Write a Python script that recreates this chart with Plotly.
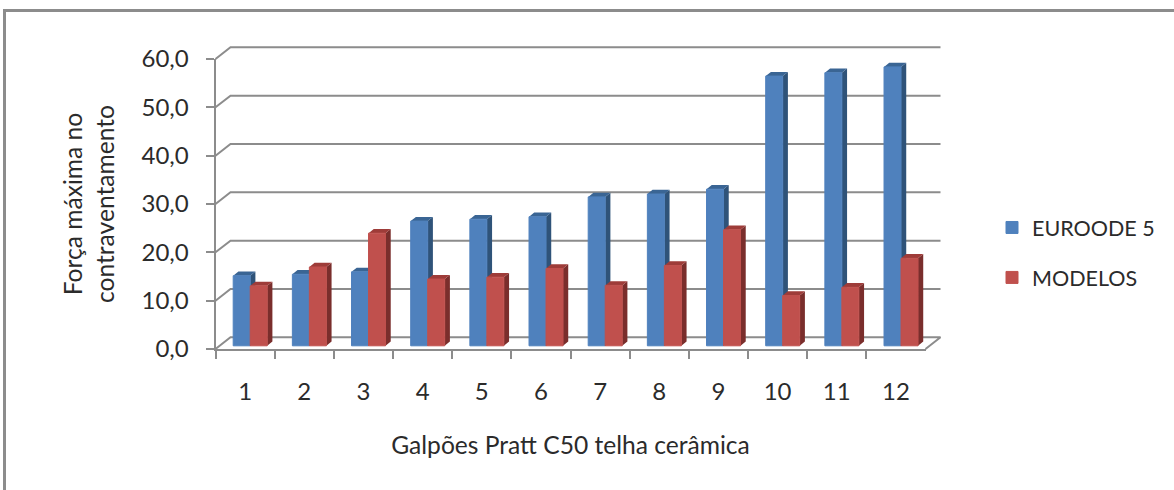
import plotly.graph_objects as go

# ---------- data ----------
categories = ["1", "2", "3", "4", "5", "6", "7", "8", "9", "10", "11", "12"]
eurocode = [14.5, 14.8, 15.3, 25.8, 26.2, 26.7, 30.8, 31.4, 32.4, 55.8, 56.5, 57.7]
modelos = [12.4, 16.3, 23.3, 13.8, 14.2, 16.0, 12.5, 16.6, 24.0, 10.4, 12.1, 18.1]
y_ticks = [0, 10, 20, 30, 40, 50, 60]
y_tick_labels = ["0,0", "10,0", "20,0", "30,0", "40,0", "50,0", "60,0"]
series_names = ["EUROODE 5", "MODELOS"]
x_title = "Galpões Pratt C50 telha cerâmica"
y_title = "Força máxima no<br>contraventamento"

# ---------- geometry (figure pixels -> axis units) ----------
W, H = 1174, 490
PX_LEFT, PX_RIGHT = 215.5, 925.5
PX_BOTTOM, PX_TOP = 349.0, 59.0
UX = (PX_RIGHT - PX_LEFT) / 12          # px per category
UY = (PX_BOTTOM - PX_TOP) / 60          # px per value unit
WALL_DX, WALL_DY = 15 / UX, 11.7 / UY   # depth of the back wall
BAR_DX, BAR_DY = 5.2 / UX, 4.2 / UY     # depth of each bar
BASE = 3.2 / UY                         # bars stand slightly behind the front edge
BLUE_OFF, BAR_W = 17.7 / UX, 17.0 / UX  # bar position within a category

BLUE, RED = "#4F81BD", "#C0504D"
BLUE_SIDE, BLUE_TOP = "#2F5379", "#3A6594"
RED_SIDE, RED_TOP = "#7A2E2C", "#9E3C39"
GRID = "#8C8C8C"
TEXT = "#2B2B2B"
FONT = "Lato"


def polygons(pts):
    xs, ys = [], []
    for p in pts:
        xs += [q[0] for q in p] + [p[0][0], None]
        ys += [q[1] for q in p] + [p[0][1], None]
    return xs, ys


def side_faces(values, off):
    out = []
    for i, v in enumerate(values):
        r = i + off + BAR_W
        out.append([(r, BASE), (r + BAR_DX, BASE + BAR_DY),
                    (r + BAR_DX, BASE + v + BAR_DY), (r, BASE + v)])
    return polygons(out)


def top_faces(values, off):
    out = []
    for i, v in enumerate(values):
        l = i + off
        r = l + BAR_W
        t = BASE + v
        out.append([(l, t), (r, t), (r + BAR_DX, t + BAR_DY), (l + BAR_DX, t + BAR_DY)])
    return polygons(out)


fig = go.Figure()

# back wall gridlines and floor, on a hidden full-page axis pair with the same scale
gx, gy = [], []
for v in y_ticks:
    if v == 0:
        gx += [0, WALL_DX, 12 + WALL_DX, 12, None]
        gy += [0, WALL_DY, WALL_DY, 0, None]
    else:
        gx += [0, WALL_DX, 12 + WALL_DX, None]
        gy += [v, v + WALL_DY, v + WALL_DY, None]
fig.add_trace(go.Scatter(x=gx, y=gy, mode="lines", line=dict(color=GRID, width=2),
                         showlegend=False, hoverinfo="skip", xaxis="x", yaxis="y"))

# bar depth faces
RED_OFF = BLUE_OFF + BAR_W
for vals, off, side_c, top_c in [(eurocode, BLUE_OFF, BLUE_SIDE, BLUE_TOP),
                                 (modelos, RED_OFF, RED_SIDE, RED_TOP)]:
    sx, sy = side_faces(vals, off)
    fig.add_trace(go.Scatter(x=sx, y=sy, mode="lines", fill="toself", fillcolor=side_c,
                             line=dict(width=0, color=side_c), showlegend=False,
                             hoverinfo="skip", xaxis="x", yaxis="y"))
    tx, ty = top_faces(vals, off)
    fig.add_trace(go.Scatter(x=tx, y=ty, mode="lines", fill="toself", fillcolor=top_c,
                             line=dict(width=0, color=top_c), showlegend=False,
                             hoverinfo="skip", xaxis="x", yaxis="y"))

# front faces: real bars on the visible axes
for name, vals, off, col in [(series_names[0], eurocode, BLUE_OFF, BLUE),
                             (series_names[1], modelos, RED_OFF, RED)]:
    fig.add_trace(go.Bar(x=categories, y=vals, base=BASE, name=name, legendgroup=name,
                         offset=off - 0.5, width=BAR_W,
                         marker=dict(color=col, line=dict(color=col, width=1)),
                         xaxis="x2", yaxis="y2"))

hidden = dict(visible=False, showgrid=False, zeroline=False, fixedrange=True)
axis_font = dict(family=FONT, size=24, color=TEXT)
title_font = dict(family=FONT, size=24.6, color=TEXT)
fig.update_layout(
    width=W, height=H, autosize=False,
    margin=dict(l=0, r=0, t=0, b=0, autoexpand=False),
    paper_bgcolor="white", plot_bgcolor="rgba(0,0,0,0)",
    barmode="overlay",
    showlegend=True,
    font=dict(family=FONT, color=TEXT),
    xaxis=dict(hidden, domain=[0, 1], range=[-PX_LEFT / UX, (W - PX_LEFT) / UX]),
    yaxis=dict(hidden, domain=[0, 1], range=[-(H - PX_BOTTOM) / UY, PX_BOTTOM / UY]),
    xaxis2=dict(type="category", categoryorder="array", categoryarray=categories,
                domain=[PX_LEFT / W, PX_RIGHT / W], anchor="y2",
                range=[-0.5, 11.5], tickson="boundaries",
                showline=True, linecolor=GRID, linewidth=2, ticks="outside",
                ticklen=8, tickwidth=2, tickcolor=GRID, showgrid=False, zeroline=False,
                tickfont=axis_font, ticklabelstandoff=20,
                title=dict(text=x_title, font=title_font, standoff=33)),
    yaxis2=dict(domain=[1 - PX_BOTTOM / H, 1 - PX_TOP / H], anchor="x2",
                range=[0, 60], tickvals=y_ticks, ticktext=y_tick_labels,
                showline=True, linecolor=GRID, linewidth=2, ticks="outside",
                ticklen=8, tickwidth=2, tickcolor=GRID, showgrid=False, zeroline=False,
                tickfont=axis_font, ticklabelstandoff=12,
                title=dict(text=y_title, font=title_font, standoff=20)),
    legend=dict(x=992 / W, y=1 - 207 / H, xanchor="left", yanchor="top",
                font=dict(family=FONT, size=21.5, color=TEXT), tracegroupgap=19,
                bgcolor="rgba(0,0,0,0)", itemclick=False, itemdoubleclick=False),
    shapes=[dict(type="line", xref="paper", yref="paper", x0=4.5 / W, x1=1, y0=1 - 10.5 / H, y1=1 - 10.5 / H,
                 line=dict(color="#8C8C8C", width=3)),
            dict(type="line", xref="paper", yref="paper", x0=4.5 / W, x1=4.5 / W, y0=0, y1=1 - 9 / H,
                 line=dict(color="#8C8C8C", width=3))],
)
fig.write_html("out.html", config=dict(displayModeBar=False),
               post_script="document.body.style.margin='0';document.body.style.overflow='hidden';")
